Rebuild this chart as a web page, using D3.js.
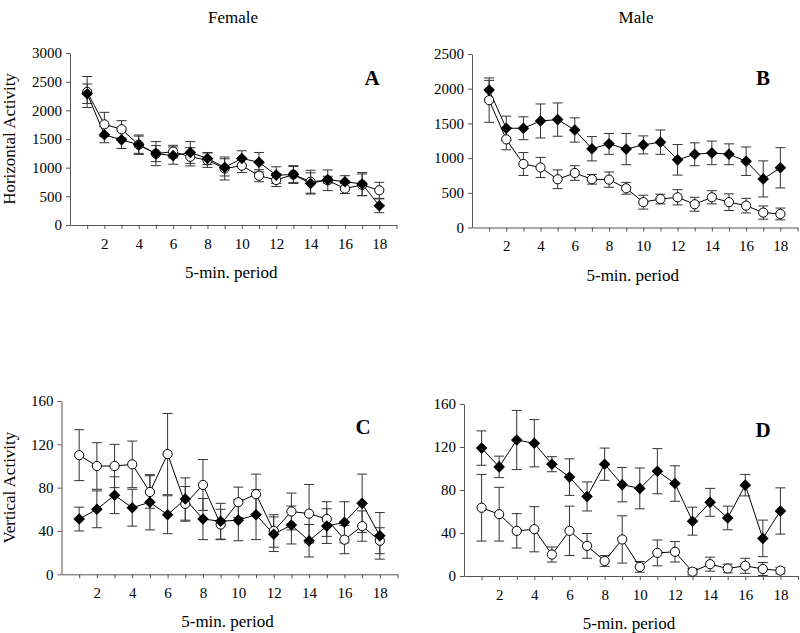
<!DOCTYPE html>
<html><head><meta charset="utf-8">
<script src="https://cdn.jsdelivr.net/npm/d3@7"></script>
<style>
body{margin:0;background:#fff}
svg{display:block;font-family:"Liberation Serif","Times New Roman",serif}
</style>
</head><body>
<svg id="chart" width="800" height="633"></svg>
<script>
// ---------- data ----------
const periods = [1,2,3,4,5,6,7,8,9,10,11,12,13,14,15,16,17,18];
const xTickValues = [1,2,3,4,5,6,7,8,9,10,11,12,13,14,15,16,17,18,19];
const xTickLabels = [2,4,6,8,10,12,14,16,18];
const columnTitles = ["Female", "Male"];
const panelLetters = ["A", "B", "C", "D"];
const yLabels = ["Horizontal Activity", "Vertical Activity"];
const xLabel = "5-min. period";

const yTicksA = [0,500,1000,1500,2000,2500,3000];
const yTicksB = [0,500,1000,1500,2000,2500];
const yTicksCD = [0,40,80,120,160];

// Panel A (Female, horizontal)
const aFilled    = [2290,1575,1485,1400,1245,1210,1265,1160,1005,1160,1095,870,880,725,790,755,715,335];
const aFilledErr = [170,140,150,170,140,150,190,105,150,135,170,145,140,185,60,105,200,120];
const aOpen      = [2320,1755,1670,1400,1245,1280,1190,1130,985,1035,860,785,880,755,780,635,700,605];
const aOpenErr   = [270,210,150,150,210,110,160,125,200,120,105,115,155,200,180,85,190,140];

// Panel B (Male, horizontal)
const bFilled    = [1980,1430,1430,1535,1555,1405,1135,1205,1130,1190,1230,975,1055,1075,1055,955,700,860];
const bFilledErr = [140,175,165,245,240,175,175,150,225,130,175,220,165,170,150,205,260,290];
const bOpen      = [1835,1270,915,865,695,785,695,690,565,365,410,435,335,435,365,315,215,195];
const bOpenErr   = [320,150,165,145,135,105,70,110,85,100,70,110,100,95,120,105,95,85];

// Panel C (Female, vertical)
const cFilled    = [51,60,73,61.5,66.5,55,69.5,51,49,50,55,37,45.5,31,44.5,48,65.5,35.5];
const cFilledErr = [11,17,17,17,25.5,17.5,19.5,19,16.5,19,23,16,17.5,15,16,19,27,21.5];
const cOpen      = [110,100,100,101.5,76,111,65,82.5,46,66.5,74,40,58,56,51,32,44.5,31];
const cOpenErr   = [23.5,21.5,20,21.5,15,37.5,16,23.5,14,14,18.5,15,17,27,16,13,14,12];

// Panel D (Male, vertical)
const dFilled    = [119,101.5,126.5,123.5,104,92,74,104,85,81.5,97.5,86,51,68.5,54,84.5,35,60.5];
const dFilledErr = [16,10,27.5,22,7,17,13.5,15,16,19,21,16.5,13,13,11,10,17,21.5];
const dOpen      = [63.5,57.5,42,43.5,20,42,28,14,34,8.5,21.5,22.5,4,11,7,9.5,6.5,5];
const dOpenErr   = [31,25,16,21,7,23,11.5,5,22,5,12,9.5,3,6.5,4,7,6,3];

// ---------- layout ----------
const panels = [
  {letter:panelLetters[0], filled:aFilled, filledErr:aFilledErr, open:aOpen, openErr:aOpenErr,
   yTicks:yTicksA, xr:[70,396.5], yr:[225,53], ylabel:yLabels[0], letterPos:[372,85]},
  {letter:panelLetters[1], filled:bFilled, filledErr:bFilledErr, open:bOpen, openErr:bOpenErr,
   yTicks:yTicksB, xr:[472,797.5], yr:[227.5,54], ylabel:null, letterPos:[763,85]},
  {letter:panelLetters[2], filled:cFilled, filledErr:cFilledErr, open:cOpen, openErr:cOpenErr,
   yTicks:yTicksCD, xr:[61.5,397.5], yr:[574.3,401], ylabel:yLabels[1], letterPos:[363,434]},
  {letter:panelLetters[3], filled:dFilled, filledErr:dFilledErr, open:dOpen, openErr:dOpenErr,
   yTicks:yTicksCD, xr:[464,798], yr:[576,404], ylabel:null, letterPos:[763,437]}
];

const svg = d3.select("#chart");
const axisColor = "#555";
const serif = '"Liberation Serif","Times New Roman",serif';

// column titles
svg.append("text").attr("x",233).attr("y",23).attr("text-anchor","middle")
  .attr("font-size",17).text(columnTitles[0]);
svg.append("text").attr("x",636).attr("y",23).attr("text-anchor","middle")
  .attr("font-size",17).text(columnTitles[1]);

panels.forEach(p => {
  const x = d3.scaleLinear().domain([0,19]).range(p.xr);
  const yMax = p.yTicks[p.yTicks.length-1];
  const y = d3.scaleLinear().domain([0,yMax]).range(p.yr);
  const g = svg.append("g");

  // y axis
  const yAxis = g.append("g").attr("transform",`translate(${p.xr[0]},0)`)
    .call(d3.axisLeft(y).tickValues(p.yTicks).tickSize(4).tickSizeOuter(0).tickPadding(4)
      .tickFormat(d3.format("d")));
  // x axis
  const xAxis = g.append("g").attr("transform",`translate(0,${p.yr[0]})`)
    .call(d3.axisBottom(x).tickValues(xTickValues).tickSize(4).tickSizeOuter(0).tickPadding(9)
      .tickFormat(d => xTickLabels.includes(d) ? d : ""));
  [yAxis, xAxis].forEach(a => {
    a.attr("font-family", serif).attr("font-size", 15);
    a.select(".domain").attr("stroke",axisColor);
    a.selectAll(".tick line").attr("stroke",axisColor);
    a.selectAll("text").attr("fill","#000").attr("font-size",15).attr("font-family",serif);
  });

  // axis titles
  g.append("text").attr("x",(p.xr[0]+p.xr[1])/2 - 2).attr("y",p.yr[0]+53)
    .attr("text-anchor","middle").attr("font-size",17).text(xLabel);
  if (p.ylabel) {
    g.append("text").attr("transform",`translate(15,${(p.yr[0]+p.yr[1])/2}) rotate(-90)`)
      .attr("text-anchor","middle").attr("font-size",17).text(p.ylabel);
  }

  // panel letter
  g.append("text").attr("x",p.letterPos[0]).attr("y",p.letterPos[1])
    .attr("text-anchor","middle").attr("font-size",21).attr("font-weight","bold").text(p.letter);

  const series = [
    {vals:p.open, errs:p.openErr, type:"open"},
    {vals:p.filled, errs:p.filledErr, type:"filled"}
  ];

  // error bars
  series.forEach(s => {
    const eb = g.append("g").attr("stroke","#333").attr("stroke-width",1).attr("fill","none");
    periods.forEach((per,i) => {
      const cx = x(per), lo = y(s.vals[i]-s.errs[i]), hi = y(s.vals[i]+s.errs[i]);
      eb.append("line").attr("x1",cx).attr("x2",cx).attr("y1",lo).attr("y2",hi);
      eb.append("line").attr("x1",cx-5).attr("x2",cx+5).attr("y1",lo).attr("y2",lo);
      eb.append("line").attr("x1",cx-5).attr("x2",cx+5).attr("y1",hi).attr("y2",hi);
    });
  });

  // lines
  series.forEach(s => {
    const line = d3.line().x((d,i)=>x(periods[i])).y(d=>y(d));
    g.append("path").datum(s.vals).attr("d",line).attr("fill","none")
      .attr("stroke","#000").attr("stroke-width",1);
  });

  // markers
  const openS = series[0], filledS = series[1];
  g.selectAll(".om").data(openS.vals).enter().append("circle")
    .attr("cx",(d,i)=>x(periods[i])).attr("cy",d=>y(d)).attr("r",4.6)
    .attr("fill","#fff").attr("stroke","#000").attr("stroke-width",1);
  const r = 5.8;
  g.selectAll(".fm").data(filledS.vals).enter().append("path")
    .attr("d",(d,i)=>{const cx=x(periods[i]), cy=y(d);
      return `M${cx},${cy-r}L${cx+r},${cy}L${cx},${cy+r}L${cx-r},${cy}Z`;})
    .attr("fill","#000");
});
</script>
</body></html>
